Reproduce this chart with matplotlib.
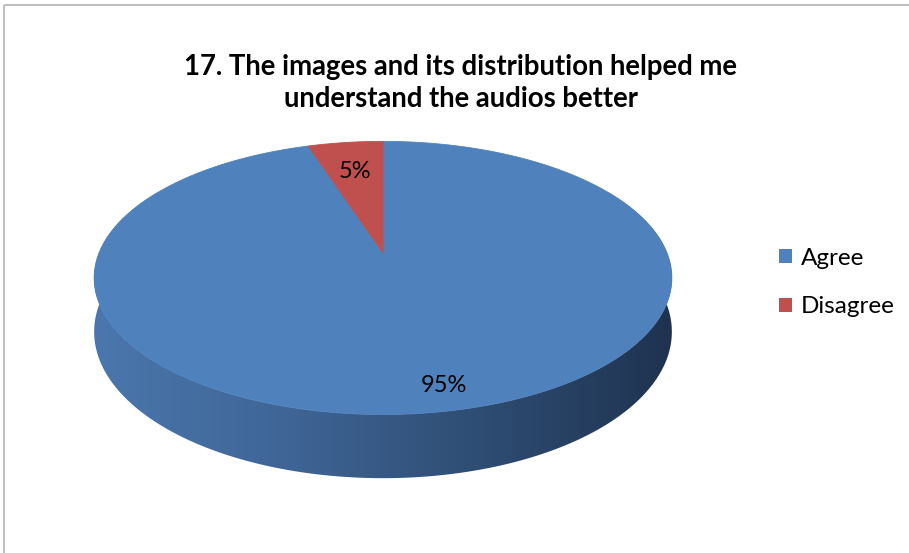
import numpy as np
import matplotlib
matplotlib.use('Agg')
import matplotlib.pyplot as plt
from matplotlib.patches import Polygon, Rectangle, Patch
from matplotlib.colors import LinearSegmentedColormap

plt.rcParams['font.family'] = ['Lato', 'DejaVu Sans']

title = "17. The images and its distribution helped me\nunderstand the audios better"
labels = ['Agree', 'Disagree']
values = [95, 5]
pct_labels = ['95%', '5%']
colors = ['#4F81BD', '#C0504D']

# 3d view of the pie (pixels of the 909x553 canvas)
cx, cy, s = 383, 253, 284
phi = np.radians(27.7)
D = 4.85
h = 0.207


def project(theta, r=1.0, y=0.0):
    # theta goes clockwise from 12 o'clock (back of the pie)
    X = r * np.sin(theta)
    Z = -r * np.cos(theta)
    zc = Z * np.cos(phi)
    ys = Z * np.sin(phi) - y * np.cos(phi)
    k = D / (D - zc)
    return cx + s * X * k, cy + s * ys * k


fig = plt.figure(figsize=(9.09, 5.53), dpi=100)
ax = fig.add_axes([0, 0, 1, 1])

# chart border (only left and top visible)
ax.add_patch(Rectangle((4, 5), 950, 600, fill=False, ec='#BFBFBF', lw=1.5))

# side wall: one polygon filled with a horizontal gradient
t = np.linspace(np.radians(60), np.radians(300), 400)
tx, ty = project(t)
bx, by = project(t[::-1], y=-h)
side = Polygon(np.column_stack([np.r_[tx, bx], np.r_[ty, by]]), closed=True,
               fc='none', ec='none')
ax.add_patch(side)
grad = np.linspace(0, 1, 256).reshape(1, -1)
side_cmap = LinearSegmentedColormap.from_list(
    'side', ['#4A77AD', '#3F6596', '#2E4D73', '#1F3350'])
im = ax.imshow(grad, cmap=side_cmap, extent=[94, 672, 500, 130],
               aspect='auto', interpolation='bilinear')
im.set_clip_path(side)
ax.set_xlim(0, 909)
ax.set_ylim(553, 0)
ax.axis('off')

# top face slices
total = sum(values)
start = 0.0
mids = []
for v, c in zip(values, colors):
    end = start + 2 * np.pi * v / total
    a = np.linspace(start, end, 200)
    px, py = project(a)
    pts = [[cx, cy]] + list(zip(px, py))
    ax.add_patch(Polygon(pts, closed=True, fc=c, ec=c, lw=0.6))
    mids.append((start + end) / 2)
    start = end

label_r = [0.86, 0.70]
label_dx = [16, 0]
for m, r, dx, txt in zip(mids, label_r, label_dx, pct_labels):
    lx, ly = project(m, r=r)
    ax.text(lx + dx, ly, txt, ha='center', va='center', fontsize=17,
            color='black')

ax.text(461, 83, title, ha='center', va='center', fontsize=19.8,
        fontweight='bold', linespacing=1.25)

handles = [Patch(fc=c, ec='none') for c in colors]
fig.legend(handles=handles, labels=labels, loc='center left',
           bbox_to_anchor=(779 / 909, 1 - 282.5 / 553), frameon=False,
           fontsize=17.5, handlelength=0.55, handleheight=0.55,
           handletextpad=0.35, labelspacing=1.15, borderpad=0, borderaxespad=0)

fig.savefig('out.png', dpi=100)
